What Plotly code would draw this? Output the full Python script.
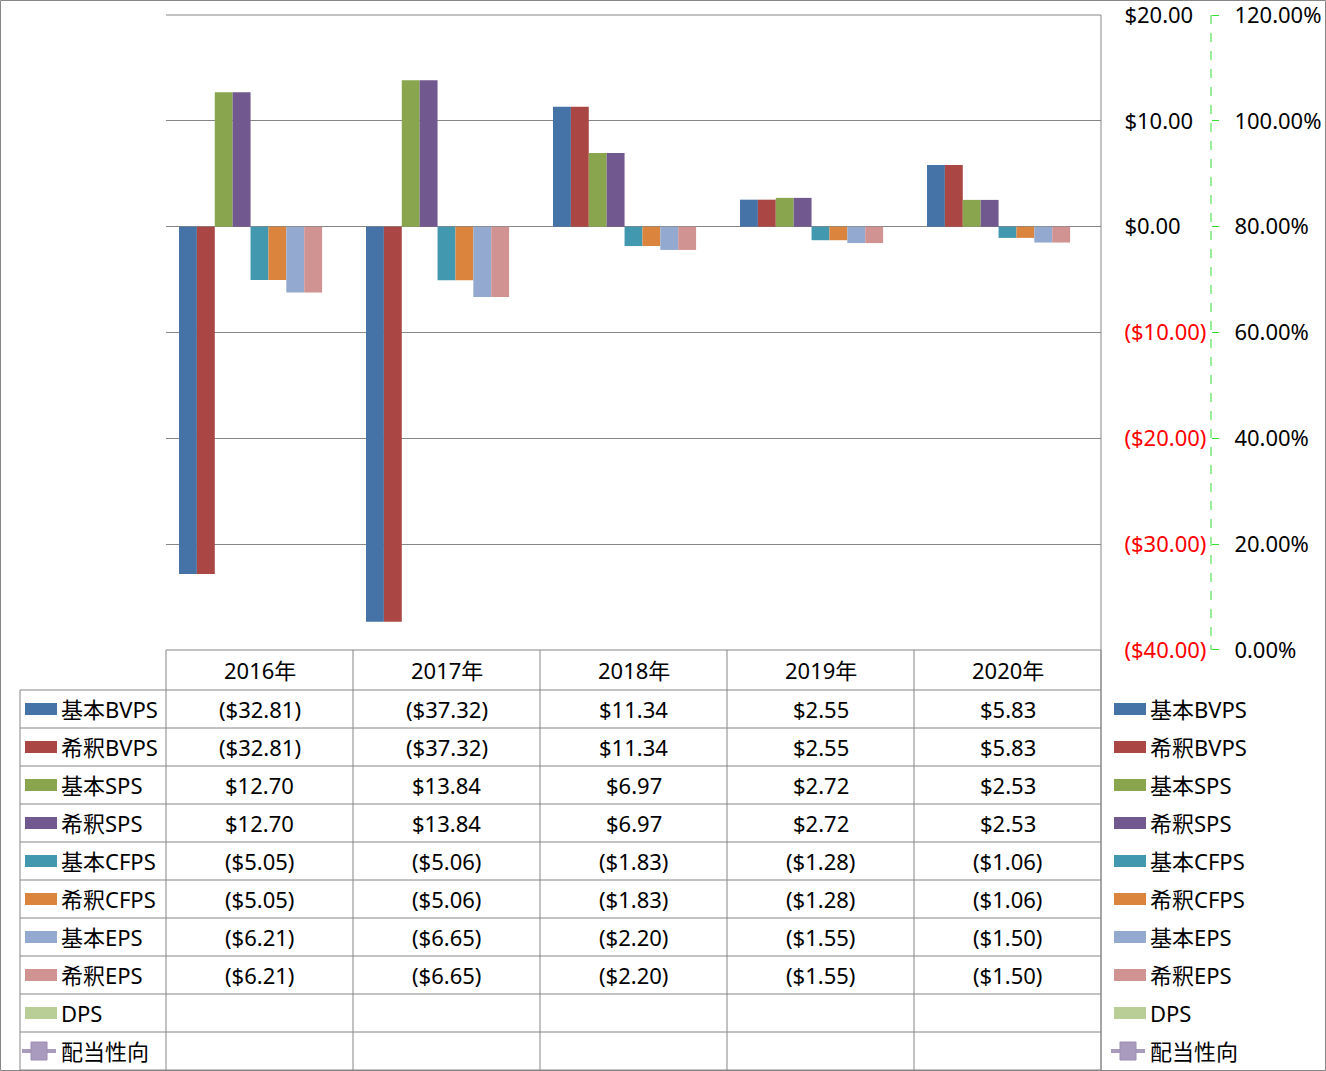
import plotly.graph_objects as go

W, H = 1326, 1071

years = ["2016年", "2017年", "2018年", "2019年", "2020年"]
series_names = ["基本BVPS", "希釈BVPS", "基本SPS", "希釈SPS", "基本CFPS",
                "希釈CFPS", "基本EPS", "希釈EPS", "DPS", "配当性向"]
basic_bvps = [-32.81, -37.32, 11.34, 2.55, 5.83]
diluted_bvps = [-32.81, -37.32, 11.34, 2.55, 5.83]
basic_sps = [12.70, 13.84, 6.97, 2.72, 2.53]
diluted_sps = [12.70, 13.84, 6.97, 2.72, 2.53]
basic_cfps = [-5.05, -5.06, -1.83, -1.28, -1.06]
diluted_cfps = [-5.05, -5.06, -1.83, -1.28, -1.06]
basic_eps = [-6.21, -6.65, -2.20, -1.55, -1.50]
diluted_eps = [-6.21, -6.65, -2.20, -1.55, -1.50]
dps = [None, None, None, None, None]
payout_ratio = [None, None, None, None, None]

colors = ["#4572A7", "#AA4643", "#89A54E", "#71588F", "#4198AF",
          "#DB843D", "#93A9CF", "#D19392", "#B9CD96", "#A99BBD"]

y_ticks = [-40, -30, -20, -10, 0, 10, 20]
y2_ticks = [0, 0.2, 0.4, 0.6, 0.8, 1.0, 1.2]

bar_series = [basic_bvps, diluted_bvps, basic_sps, diluted_sps, basic_cfps,
              diluted_cfps, basic_eps, diluted_eps, dps]
all_series = bar_series + [payout_ratio]

FONT = "Noto Sans, Noto Sans CJK JP"
FS = 22
GRID = "#868686"


def X(px):
    return px / W


def Y(py):
    return 1 - py / H


def money(v):
    if v is None:
        return ""
    if v < 0:
        return "(${:.2f})".format(-v)
    return "${:.2f}".format(v)


def money_tick(v):
    if v < 0:
        return "<span style='color:#FF0000'>(${:.2f})</span>".format(-v)
    return "${:.2f}".format(v)


fig = go.Figure()
for name, vals, col in zip(series_names[:9], bar_series, colors[:9]):
    fig.add_trace(go.Bar(x=years, y=vals, name=name, marker_color=col,
                         marker_line_width=0, showlegend=False))
fig.add_trace(go.Scatter(x=years, y=payout_ratio, name=series_names[9],
                         mode="lines+markers", yaxis="y2",
                         line=dict(color=colors[9], width=3),
                         marker=dict(symbol="square", size=12, color=colors[9]),
                         showlegend=False))

shapes = []
annotations = []

# outer border
shapes.append(dict(type="rect", xref="paper", yref="paper",
                   x0=X(0.5), x1=X(1325.5), y0=Y(1070.5), y1=Y(0.5),
                   line=dict(color=GRID, width=1)))
# top line of plot area
shapes.append(dict(type="line", xref="paper", yref="paper",
                   x0=X(166), x1=X(1101), y0=Y(15), y1=Y(15),
                   line=dict(color=GRID, width=1)))
# plot-area right edge & table right edge
shapes.append(dict(type="line", xref="paper", yref="paper",
                   x0=X(1101), x1=X(1101), y0=Y(15), y1=Y(1070),
                   line=dict(color=GRID, width=1)))
# secondary axis dashed line
shapes.append(dict(type="line", xref="paper", yref="paper",
                   x0=X(1211), x1=X(1211), y0=Y(15), y1=Y(650),
                   line=dict(color="#33DD33", width=1, dash="dash")))

# data table grid
col_left = 166
col_w = 187
row_top = 690
row_h = 38
n_rows = len(series_names)
table_bottom = row_top + row_h * n_rows
shapes.append(dict(type="line", xref="paper", yref="paper",
                   x0=X(col_left), x1=X(col_left + col_w * len(years)),
                   y0=Y(650), y1=Y(650), line=dict(color=GRID, width=1)))
for i in range(n_rows + 1):
    yy = row_top + row_h * i
    shapes.append(dict(type="line", xref="paper", yref="paper",
                       x0=X(20), x1=X(col_left + col_w * len(years)),
                       y0=Y(yy), y1=Y(yy), line=dict(color=GRID, width=1)))
for j in range(len(years) + 1):
    xx = col_left + col_w * j
    shapes.append(dict(type="line", xref="paper", yref="paper",
                       x0=X(xx), x1=X(xx), y0=Y(650), y1=Y(table_bottom),
                       line=dict(color=GRID, width=1)))
shapes.append(dict(type="line", xref="paper", yref="paper",
                   x0=X(20), x1=X(20), y0=Y(row_top), y1=Y(table_bottom),
                   line=dict(color=GRID, width=1)))

# header
for j, yr in enumerate(years):
    annotations.append(dict(xref="paper", yref="paper",
                            x=X(col_left + col_w * j + col_w / 2), y=Y(670),
                            text=yr, showarrow=False, xanchor="center",
                            yanchor="middle", font=dict(family=FONT, size=FS, color="#000")))

# rows
for i, (name, vals, col) in enumerate(zip(series_names, all_series, colors)):
    cy = row_top + row_h * i + row_h / 2
    for j, v in enumerate(vals):
        annotations.append(dict(xref="paper", yref="paper",
                                x=X(col_left + col_w * j + col_w / 2), y=Y(cy),
                                text=money(v), showarrow=False, xanchor="center",
                                yanchor="middle", font=dict(family=FONT, size=FS, color="#000")))
    for sx, tx in ((25, 59), (1114, 1148)):
        if i < 9:
            shapes.append(dict(type="rect", xref="paper", yref="paper",
                               x0=X(sx), x1=X(sx + 32), y0=Y(cy + 6), y1=Y(cy - 6),
                               fillcolor=col, line=dict(width=0)))
        else:
            shapes.append(dict(type="line", xref="paper", yref="paper",
                               x0=X(sx - 3), x1=X(sx + 31), y0=Y(cy), y1=Y(cy),
                               line=dict(color=col, width=4)))
            shapes.append(dict(type="rect", xref="paper", yref="paper",
                               x0=X(sx + 6), x1=X(sx + 22), y0=Y(cy + 9), y1=Y(cy - 9),
                               fillcolor=col, line=dict(color="#9C8DB3", width=1)))
        annotations.append(dict(xref="paper", yref="paper", x=X(tx), y=Y(cy),
                                text=name, showarrow=False, xanchor="left",
                                yanchor="middle", font=dict(family=FONT, size=FS, color="#000")))

EPS = 0.001
fig.update_layout(
    width=W, height=H, autosize=False,
    margin=dict(l=0, r=0, t=0, b=0, pad=0, autoexpand=False),
    paper_bgcolor="white", plot_bgcolor="white",
    barmode="group", bargap=26 / 187, bargroupgap=0,
    font=dict(family=FONT, size=FS, color="#000"),
    showlegend=False,
    xaxis=dict(domain=[X(166), X(1101)], showticklabels=False, showgrid=False,
               zeroline=False, showline=False, ticks="", automargin=False),
    yaxis=dict(domain=[Y(650), Y(15)], range=[-40 - EPS, 20 + EPS], side="right",
               tickvals=y_ticks, ticktext=[money_tick(v) for v in y_ticks],
               showgrid=True, gridcolor=GRID, gridwidth=1,
               zeroline=True, zerolinecolor=GRID, zerolinewidth=1,
               showline=False, ticks="outside", ticklen=18,
               tickcolor="rgba(0,0,0,0)", automargin=False,
               ticklabeloverflow="allow",
               tickfont=dict(family=FONT, size=FS, color="#000")),
    yaxis2=dict(overlaying="y", side="right", anchor="free", position=X(1211),
                range=[0 - EPS * 0.02, 1.2 + EPS * 0.02], tickvals=y2_ticks, tickformat=".2%",
                showgrid=False, zeroline=False, showline=False,
                ticks="outside", ticklen=7, tickcolor="#33DD33", tickwidth=1,
                ticklabelstandoff=11, automargin=False,
                ticklabeloverflow="allow",
                tickfont=dict(family=FONT, size=FS, color="#000")),
    shapes=shapes,
    annotations=annotations,
)

fig.write_html("out.html", config={"displayModeBar": False})
